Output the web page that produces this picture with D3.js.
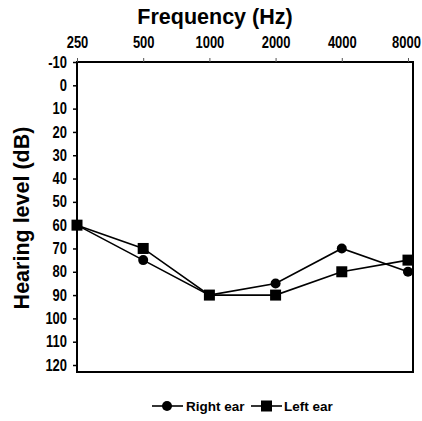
<!DOCTYPE html>
<html>
<head>
<meta charset="utf-8">
<script src="https://cdn.jsdelivr.net/npm/d3@7"></script>
<style>
  body { margin: 0; background: #fff; }
  text { font-family: "Liberation Sans", Arial, sans-serif; font-weight: bold; fill: #000; }
</style>
</head>
<body>
<svg id="chart" width="422" height="421"></svg>
<script>
// frequencies (Hz) and hearing levels (dB)
var freqs = [250, 500, 1000, 2000, 4000, 8000];
var rightEar = [60, 75, 90, 85, 70, 80];
var leftEar = [60, 70, 90, 90, 80, 75];
var dbTicks = [-10, 0, 10, 20, 30, 40, 50, 60, 70, 80, 90, 100, 110, 120];

var svg = d3.select("#chart"),
    margin = {top: 62, right: 9, bottom: 49, left: 77},
    width = +svg.attr("width") - margin.left - margin.right,
    height = +svg.attr("height") - margin.top - margin.bottom,
    g = svg.append("g").attr("transform", "translate(" + margin.left + "," + margin.top + ")");

// log2 scale, frame runs a little past 8000
var x = d3.scaleLog().base(2)
    .domain([250, 8000 * Math.pow(2, 5 / 66)])
    .range([0, width]);

var y = d3.scaleLinear()
    .domain([-10, 123])
    .range([0, height]);

// frame
g.append("rect")
    .attr("width", width)
    .attr("height", height)
    .attr("fill", "none")
    .attr("stroke", "#000")
    .attr("stroke-width", 2);

// tick labels in the reference are narrow and tall: squeeze them horizontally
var squeeze = 0.81;
function narrow(sel) {
  sel.attr("font-size", 16).attr("font-family", null)
    .attr("x", function() { return +d3.select(this).attr("x") / squeeze; })
    .attr("transform", "scale(" + squeeze + ",1)");
}

var xAxis = g.append("g")
    .call(d3.axisTop(x).tickValues(freqs).tickFormat(function(d) { return String(d); }).tickSize(4).tickPadding(10));
xAxis.select(".domain").remove();
xAxis.selectAll("text").call(narrow);
xAxis.selectAll("text").filter(function(d) { return d === 8000; }).attr("dx", -2.5);
xAxis.selectAll("line").attr("stroke", "#555");

var yAxis = g.append("g")
    .call(d3.axisLeft(y).tickValues(dbTicks).tickFormat(function(d) { return String(d); }).tickSize(4).tickPadding(6));
yAxis.select(".domain").remove();
yAxis.selectAll("text").call(narrow);
yAxis.selectAll("line").attr("stroke", "#000").attr("stroke-width", 1.5);

svg.append("text")
    .attr("x", 215)
    .attr("y", 24)
    .attr("text-anchor", "middle")
    .attr("font-size", 21.5)
    .text("Frequency (Hz)");

svg.append("text")
    .attr("transform", "translate(29,218) rotate(-90)")
    .attr("text-anchor", "middle")
    .attr("font-size", 21.5)
    .text("Hearing level (dB)");

var line = d3.line()
    .x(function(d) { return x(d[0]); })
    .y(function(d) { return y(d[1]); });

var rightData = freqs.map(function(f, i) { return [f, rightEar[i]]; });
var leftData = freqs.map(function(f, i) { return [f, leftEar[i]]; });

[rightData, leftData].forEach(function(d) {
  g.append("path")
      .datum(d)
      .attr("fill", "none")
      .attr("stroke", "#000")
      .attr("stroke-width", 1.6)
      .attr("d", line);
});

g.selectAll(".dot")
    .data(rightData)
  .enter().append("circle")
    .attr("cx", function(d) { return x(d[0]); })
    .attr("cy", function(d) { return y(d[1]); })
    .attr("r", 5)
    .attr("fill", "#000");

g.selectAll(".sq")
    .data(leftData)
  .enter().append("rect")
    .attr("x", function(d) { return x(d[0]) - 5.5; })
    .attr("y", function(d) { return y(d[1]) - 5.5; })
    .attr("width", 11)
    .attr("height", 11)
    .attr("fill", "#000");

// legend
var legend = svg.append("g").attr("transform", "translate(0,406)");
legend.append("line").attr("x1", 152).attr("x2", 183).attr("stroke", "#000").attr("stroke-width", 1.6);
legend.append("circle").attr("cx", 167).attr("r", 5).attr("fill", "#000");
legend.append("text").attr("x", 186).attr("y", 5).attr("font-size", 13.5).text("Right ear");
legend.append("line").attr("x1", 251).attr("x2", 282).attr("stroke", "#000").attr("stroke-width", 1.6);
legend.append("rect").attr("x", 261).attr("y", -5.5).attr("width", 11).attr("height", 11).attr("fill", "#000");
legend.append("text").attr("x", 284).attr("y", 5).attr("font-size", 13.5).text("Left ear");
</script>
</body>
</html>
